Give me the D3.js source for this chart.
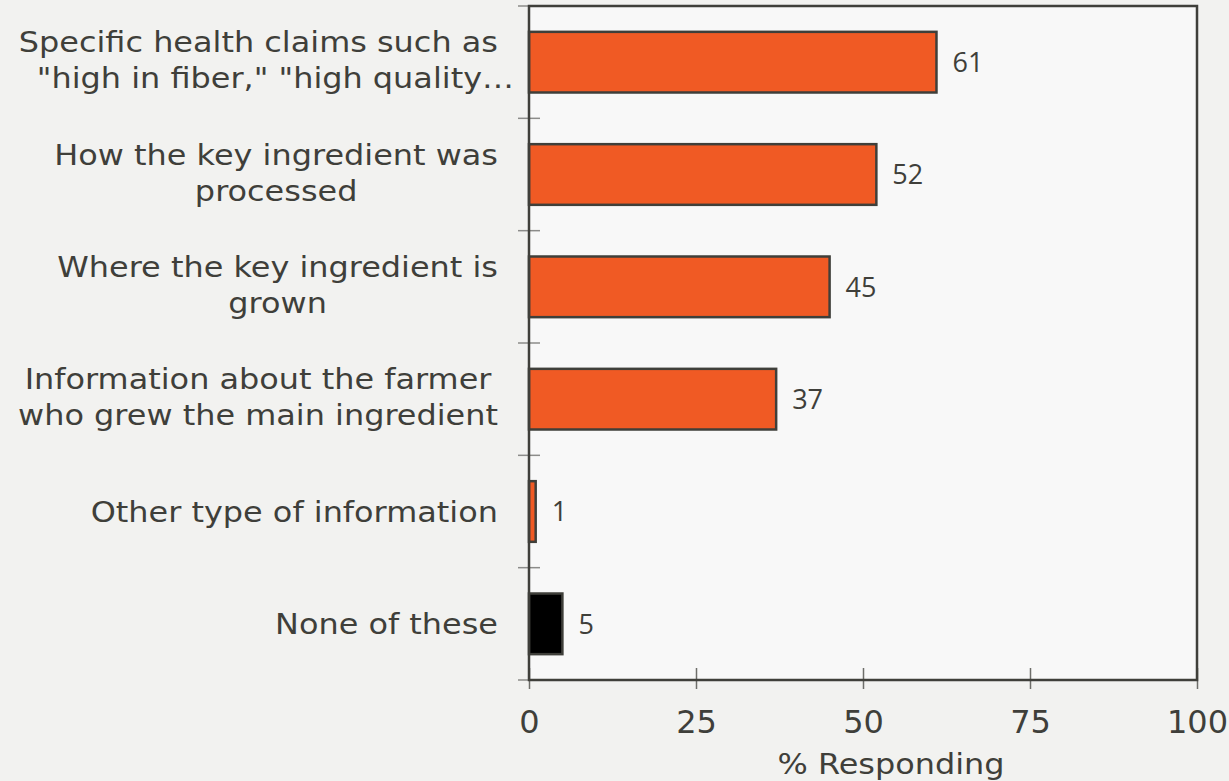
<!DOCTYPE html>
<html>
<head>
<meta charset="utf-8">
<script src="https://cdn.jsdelivr.net/npm/d3@7"></script>
<style>
  html, body { margin: 0; padding: 0; background: #f2f2f0; }
  svg { display: block; }
</style>
</head>
<body>
<svg id="chart" width="1229" height="781"></svg>
<script>
// Survey answers, top to bottom
const categories = [
  ["Specific health claims such as", "\"high in fiber,\" \"high quality\u2026"],
  ["How the key ingredient was", "processed"],
  ["Where the key ingredient is", "grown"],
  ["Information about the farmer", "who grew the main ingredient"],
  ["Other type of information"],
  ["None of these"]
];
const values = [61, 52, 45, 37, 1, 5];
const barColors = ["#f05a24", "#f05a24", "#f05a24", "#f05a24", "#f05a24", "#000000"];
const xTicks = [0, 25, 50, 75, 100];
const xTitle = "% Responding";

const svg = d3.select("#chart");
const W = 1229, H = 781;
const m = { left: 529, top: 6, right: W - 1197, bottom: H - 680 };
const iw = W - m.left - m.right, ih = H - m.top - m.bottom;
const textFont = "'DejaVu Sans', Verdana, sans-serif";
const ink = "#3f3f3a";
const wide = 1.12;   // horizontal stretch giving the broad Verdana-like letterforms

const keys = categories.map((c, i) => i);
const x = d3.scaleLinear().domain([0, 100]).range([0, iw]);
const y = d3.scaleBand().domain(keys).range([0, ih]).paddingInner(0.46).paddingOuter(0.23);

const g = svg.append("g").attr("transform", `translate(${m.left},${m.top})`);

// plot background
g.append("rect").attr("width", iw).attr("height", ih).attr("fill", "#f8f8f8");

// category boundary ticks on the left edge
const gap = y.step() - y.bandwidth();
const bounds = keys.map(k => y(k) - gap / 2).concat([ih]);
g.selectAll("line.ytick").data(bounds).join("line")
  .attr("class", "ytick")
  .attr("x1", -11).attr("x2", 11)
  .attr("y1", d => d).attr("y2", d => d)
  .attr("stroke", "#8c8c8a").attr("stroke-width", 1.5);

// x axis ticks and labels
const xAxis = d3.axisBottom(x).tickValues(xTicks).tickSize(0).tickPadding(0);
const ax = g.append("g").attr("transform", `translate(0,${ih})`).call(xAxis);
ax.select(".domain").remove();
ax.selectAll(".tick line").remove();
ax.selectAll(".tick").append("line")
  .attr("y1", -12).attr("y2", 9)
  .attr("stroke", "#6e6e6a").attr("stroke-width", 1.5);
ax.selectAll(".tick text")
  .attr("y", 53).attr("dy", null)
  .attr("fill", ink)
  .style("font-family", textFont)
  .style("font-size", "32px");

// bars
g.selectAll("rect.bar").data(values).join("rect")
  .attr("class", "bar")
  .attr("x", 0)
  .attr("y", (d, i) => y(i))
  .attr("width", d => x(d))
  .attr("height", y.bandwidth())
  .attr("fill", (d, i) => barColors[i])
  .attr("stroke", ink).attr("stroke-width", 2.5);

// value labels
g.selectAll("text.val").data(values).join("text")
  .attr("class", "val")
  .attr("x", d => x(d) + 16)
  .attr("y", (d, i) => y(i) + y.bandwidth() / 2)
  .attr("dy", "0.36em")
  .attr("fill", ink)
  .style("font-family", "'Open Sans', sans-serif")
  .style("font-size", "27px")
  .text(d => d);

// frame
g.append("rect").attr("width", iw).attr("height", ih)
  .attr("fill", "none").attr("stroke", ink).attr("stroke-width", 2.5);

// category labels: block right aligned, lines centred within block;
// a line cut short with an ellipsis keeps the offset of its full text
const labelRight = -31;
const cutNudge = 17;
categories.forEach((lines, i) => {
  const cy = y(i) + y.bandwidth() / 2;
  const items = lines.map((s, j) => {
    const holder = g.append("g");
    const tx = holder.append("text")
      .attr("fill", ink)
      .style("font-family", textFont)
      .style("font-size", "28.5px")
      .attr("text-anchor", "middle")
      .text(s);
    return { s, holder, ty: lines.length === 1 ? cy + 10 : cy - 10 + j * 36,
             w: tx.node().getComputedTextLength() * wide };
  });
  const bw = d3.max(items, d => d.w);
  items.forEach(d => {
    const cx = labelRight - bw / 2 + (d.s.endsWith("\u2026") ? cutNudge : 0);
    d.holder.attr("transform", `translate(${cx},${d.ty}) scale(${wide},1)`);
  });
});

// axis title
svg.append("g")
  .attr("transform", `translate(${m.left + iw / 2 + 28},774) scale(${wide},1)`)
  .append("text")
  .attr("text-anchor", "middle")
  .attr("fill", ink)
  .style("font-family", textFont)
  .style("font-size", "28.5px")
  .text(xTitle);
</script>
</body>
</html>
